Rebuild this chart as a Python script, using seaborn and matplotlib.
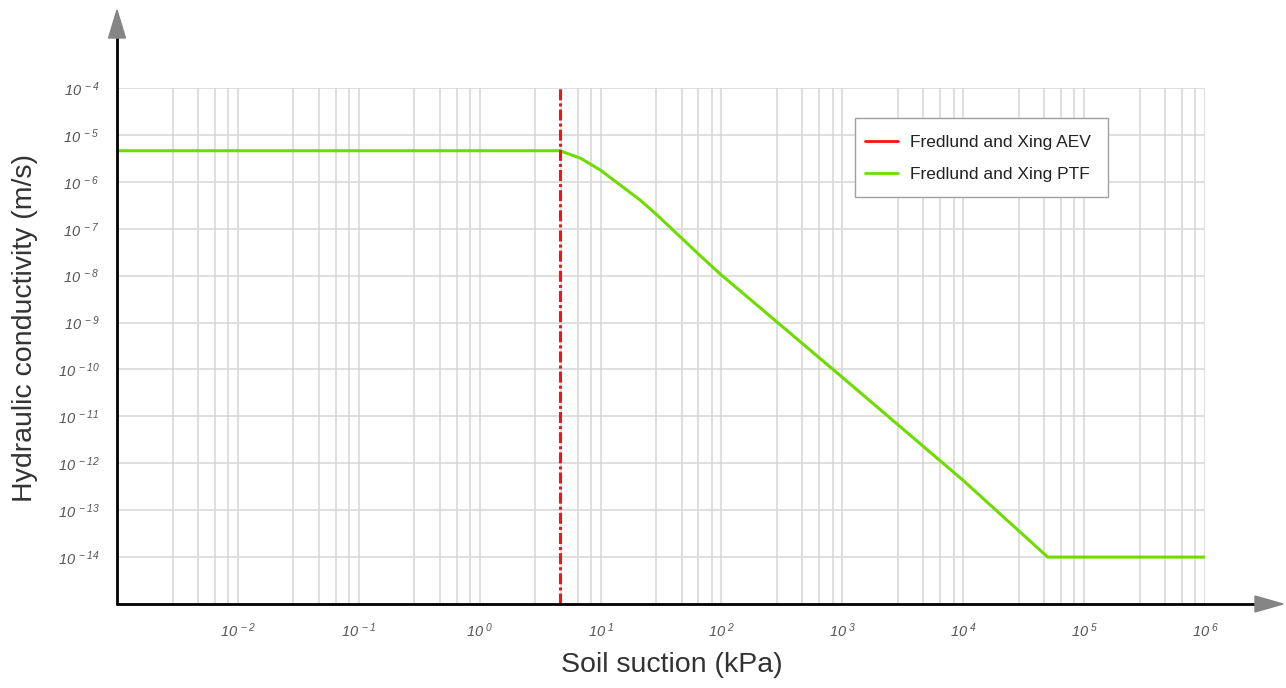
import numpy as np
import pandas as pd
import matplotlib
matplotlib.use("Agg")
import matplotlib.pyplot as plt
import seaborn as sns
from matplotlib.lines import Line2D
from matplotlib.patches import Polygon, Rectangle
from matplotlib.ticker import FixedLocator, NullFormatter, FixedFormatter

# ---- data ----
suction_kpa = [1e-3, 4.6, 6.8, 9.9, 14.5, 21.2, 29.1, 45.4, 66.4, 97,
               1000, 10000, 50000, 1e6]
conductivity = [4.6e-6, 4.6e-6, 3.2e-6, 1.8e-6, 8.6e-7, 4.1e-7, 2.0e-7,
                6.8e-8, 2.7e-8, 1.1e-8, 6.8e-11, 4.3e-13, 1.0e-14, 1.0e-14]
aev_kpa = 4.6
series_names = ["Fredlund and Xing AEV", "Fredlund and Xing PTF"]
x_decades = list(range(-3, 7))          # 1e-3 .. 1e6
y_decades = list(range(-15, -3))        # 1e-15 .. 1e-4
x_minor_fracs = [0.46, 0.67, 0.81, 0.92]  # minor grid positions inside each decade

sns.set_style("white")
plt.rcParams["font.family"] = ["Liberation Sans", "DejaVu Sans"]
plt.rcParams["mathtext.fontset"] = "custom"
plt.rcParams["mathtext.rm"] = "Liberation Sans:italic"
plt.rcParams["mathtext.it"] = "Liberation Sans:italic"
plt.rcParams["mathtext.sf"] = "Liberation Sans:italic"

fig = plt.figure(figsize=(12.86, 6.88), dpi=100)
W, H = 1286, 688
ax = fig.add_axes([117 / W, 84 / H, 1088 / W, 516 / H])

green = "#6fdc00"
red = "#ff1010"

df = pd.DataFrame({"suction": suction_kpa, "k": conductivity})
sns.lineplot(data=df, x="suction", y="k", ax=ax, color=green, lw=2.2,
             sort=False, zorder=4)
ax.set_xscale("log")
ax.set_yscale("log")
xmin, xmax = 10.0 ** x_decades[0], 10.0 ** x_decades[-1]
ymin, ymax = 10.0 ** y_decades[0], 10.0 ** y_decades[-1]
ax.set_xlim(xmin, xmax)
ax.set_ylim(ymin, ymax)

ax.plot([aev_kpa, aev_kpa], [ymin, ymax], color=red, lw=2.2,
        ls=(0, (3.6, 1.0, 1.0, 1.0)), zorder=5)

# ticks
xmaj = [10.0 ** d for d in x_decades]
xmin_t = [10.0 ** (d + f) for d in x_decades[:-1] for f in x_minor_fracs]
ymaj = [10.0 ** d for d in y_decades]
ax.xaxis.set_major_locator(FixedLocator(xmaj))
ax.xaxis.set_minor_locator(FixedLocator(xmin_t))
ax.xaxis.set_minor_formatter(NullFormatter())
ax.yaxis.set_major_locator(FixedLocator(ymaj))
ax.yaxis.set_minor_locator(FixedLocator([]))
xlabels = [""] + [r"$10^{\ %d}$" % d for d in x_decades[1:]]
ylabels = [""] + [r"$10^{\ %d}$" % d for d in y_decades[1:]]
ax.xaxis.set_major_formatter(FixedFormatter(xlabels))
ax.yaxis.set_major_formatter(FixedFormatter(ylabels))

ax.tick_params(axis="x", which="major", direction="inout", length=9, width=2,
               color="black", labelsize=10.5, labelcolor="#555555", pad=8)
ax.tick_params(axis="x", which="minor", direction="inout", length=5, width=1,
               color="black")
ax.tick_params(axis="y", which="major", direction="inout", length=9, width=2,
               color="black", labelsize=10.5, labelcolor="#555555", pad=8)

# grid
ax.grid(True, which="major", axis="both", color="#d6d6d6", lw=1.1, zorder=0)
ax.grid(True, which="minor", axis="x", color="#d6d6d6", lw=1.1, zorder=0)
ax.set_axisbelow(True)

for s in ax.spines.values():
    s.set_visible(False)

# axis lines with arrows
ytip = (604 - 10) / 516
ybase = (604 - 38) / 516
xtip = (1283 - 117) / 1088
xbase = (1255 - 117) / 1088
ax.add_line(Line2D([0, 0], [0, ybase], transform=ax.transAxes, color="black",
                   lw=2, clip_on=False, zorder=6))
ax.add_line(Line2D([0, xbase], [0, 0], transform=ax.transAxes, color="black",
                   lw=2, clip_on=False, zorder=6))
hw_x = 8.5 / 1088
hw_y = 8.0 / 516
ax.add_patch(Polygon([(-hw_x, ybase), (hw_x, ybase), (0, ytip)], closed=True,
                     transform=ax.transAxes, color="#858585", clip_on=False, zorder=6))
ax.add_patch(Polygon([(xbase, -hw_y), (xbase, hw_y), (xtip, 0)], closed=True,
                     transform=ax.transAxes, color="#858585", clip_on=False, zorder=6))

# axis labels
fig.text(672 / W, 1 - 665 / H, "Soil suction (kPa)", ha="center", va="center",
         fontsize=20.5, color="#333333")
fig.text(25 / W, 1 - 328 / H, "Hydraulic conductivity (m/s)", ha="center",
         va="center", rotation=90, fontsize=20.5, color="#333333")
ax.set_xlabel("")
ax.set_ylabel("")

# legend: frame drawn separately for exact box size
def ax_x(px):
    return (px - 117) / 1088

def ax_y(py):
    return (604 - py) / 516

ax.add_patch(Rectangle((ax_x(855), ax_y(197)), ax_x(1108) - ax_x(855),
                       ax_y(118) - ax_y(197), transform=ax.transAxes,
                       facecolor="white", edgecolor="#a0a0a0", lw=1.0,
                       zorder=7, clip_on=False))
handles = [Line2D([], [], color=red, lw=2), Line2D([], [], color=green, lw=2)]
leg = ax.legend(handles, series_names, loc="upper left",
                bbox_to_anchor=(ax_x(865), ax_y(135)),
                fontsize=12.5, frameon=False, borderpad=0, labelspacing=0.96,
                handlelength=1.9, handletextpad=0.7, borderaxespad=0)
leg.set_zorder(8)
for t in leg.get_texts():
    t.set_color("#222222")

fig.savefig("out.png", dpi=100)
